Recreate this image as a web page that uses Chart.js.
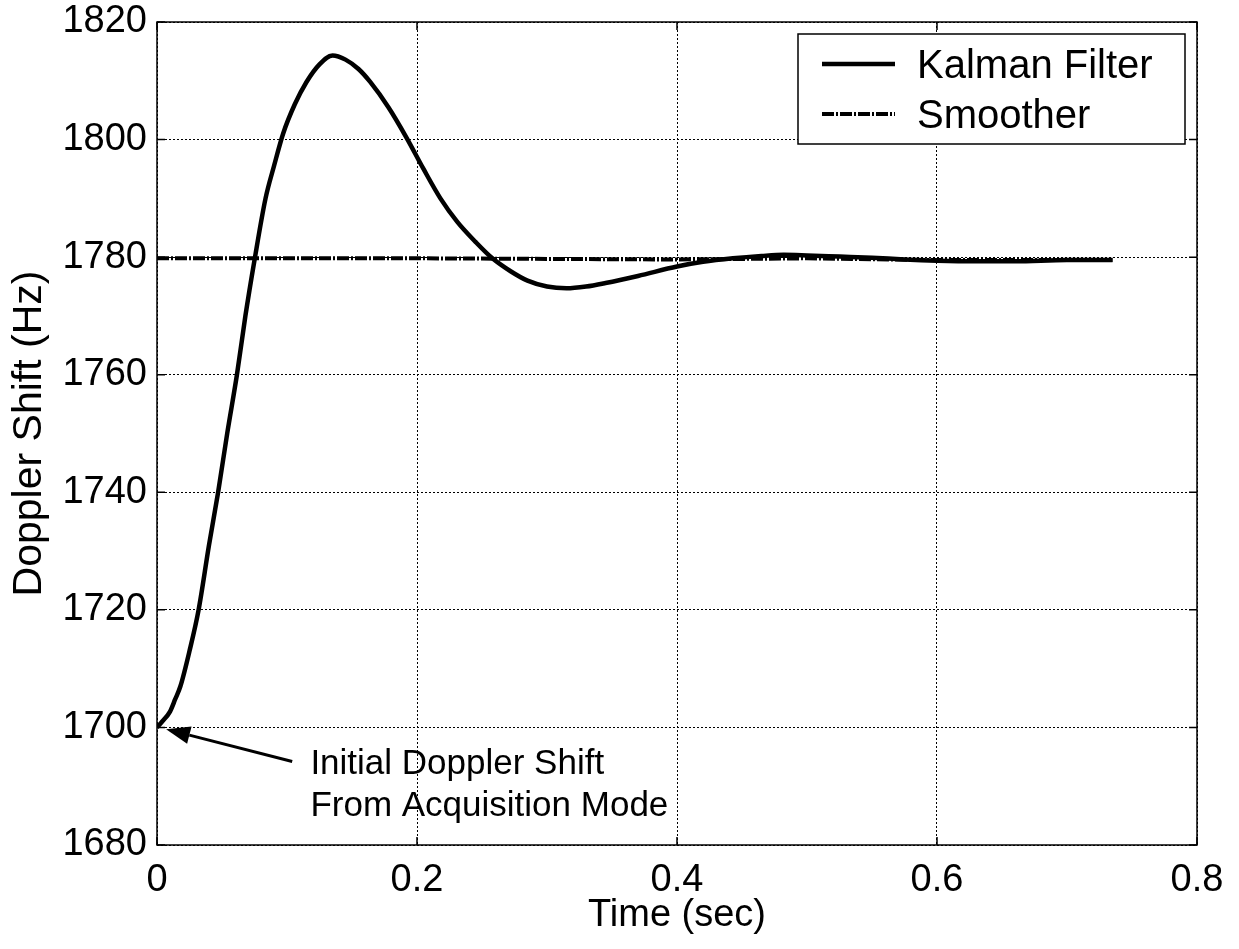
<!DOCTYPE html>
<html>
<head>
<meta charset="utf-8">
<script src="https://cdn.jsdelivr.net/npm/chart.js@4.4.0/dist/chart.umd.min.js"></script>
<style>
  html, body { margin: 0; padding: 0; background: #fff; }
  #wrap { width: 1239px; height: 949px; }
</style>
</head>
<body>
<div id="wrap"><canvas id="chart" width="1239" height="949"></canvas></div>
<script>
// values
const kalmanTime = [0, 0.004, 0.010, 0.014, 0.018, 0.025, 0.032, 0.040, 0.047, 0.054, 0.0615, 0.068, 0.075, 0.0835,
  0.090, 0.097, 0.106, 0.115, 0.125, 0.135, 0.145, 0.155, 0.164, 0.178, 0.192, 0.205, 0.218, 0.231, 0.245,
  0.258, 0.272, 0.285, 0.300, 0.315, 0.330, 0.345, 0.370, 0.400, 0.420, 0.443, 0.465, 0.482, 0.500, 0.525,
  0.550, 0.575, 0.600, 0.630, 0.660, 0.700, 0.735];
const kalmanShift = [1700, 1701, 1702.7, 1704.8, 1707, 1713, 1720, 1731, 1740, 1750, 1760, 1770, 1779.5, 1790,
  1795.5, 1801, 1806, 1809.8, 1812.8, 1814.3, 1813.6, 1812, 1809.8, 1805.5, 1800.3, 1795, 1790, 1786, 1782.6,
  1779.8, 1777.6, 1776, 1775, 1774.7, 1775, 1775.6, 1776.8, 1778.4, 1779.2, 1779.8, 1780.2, 1780.4, 1780.3, 1780.1,
  1779.9, 1779.6, 1779.4, 1779.3, 1779.3, 1779.5, 1779.5];
const smootherTime = [0, 0.1, 0.2, 0.3, 0.4, 0.5, 0.6, 0.735];
const smootherShift = [1779.8, 1779.8, 1779.8, 1779.7, 1779.6, 1779.8, 1779.5, 1779.5];
const seriesNames = ['Kalman Filter', 'Smoother'];
const xTicks = [0, 0.2, 0.4, 0.6, 0.8];
const yTicks = [1680, 1700, 1720, 1740, 1760, 1780, 1800, 1820];
const noteLines = ['Initial Doppler Shift', 'From Acquisition Mode'];
// arrow tip / tail and text anchor in data units
const noteTip = [0.007, 1699.7];
const noteTail = [0.104, 1694.2];
const noteText = [0.118, 1692.0];

const FONT = "'Liberation Sans', Arial, sans-serif";

const toPoints = (xs, ys) => xs.map((x, i) => ({ x: x, y: ys[i] }));

const extras = {
  id: 'extras',
  afterDraw(chart) {
    const { ctx, chartArea: a, scales: { x, y } } = chart;
    ctx.save();

    // inner tick marks
    ctx.strokeStyle = '#000';
    ctx.lineWidth = 1.5;
    ctx.beginPath();
    xTicks.forEach(v => {
      const px = x.getPixelForValue(v);
      ctx.moveTo(px, a.bottom); ctx.lineTo(px, a.bottom - 8);
      ctx.moveTo(px, a.top); ctx.lineTo(px, a.top + 8);
    });
    yTicks.forEach(v => {
      const py = y.getPixelForValue(v);
      ctx.moveTo(a.left, py); ctx.lineTo(a.left + 8, py);
      ctx.moveTo(a.right, py); ctx.lineTo(a.right - 8, py);
    });
    ctx.stroke();

    // frame
    ctx.lineWidth = 1.5;
    ctx.strokeRect(a.left, a.top, a.right - a.left, a.bottom - a.top);

    // legend box
    const lx = 798, ly = 34, lw = 387, lh = 110;
    ctx.fillStyle = '#fff';
    ctx.fillRect(lx, ly, lw, lh);
    ctx.lineWidth = 1.5;
    ctx.strokeRect(lx, ly, lw, lh);
    ctx.font = '40px ' + FONT;
    ctx.textBaseline = 'middle';
    ctx.textAlign = 'left';
    chart.data.datasets.forEach((ds, i) => {
      const rowY = ly + 30 + i * 50;
      ctx.strokeStyle = ds.borderColor;
      ctx.lineWidth = ds.borderWidth;
      ctx.setLineDash(ds.borderDash || []);
      ctx.beginPath();
      ctx.moveTo(lx + 24, rowY);
      ctx.lineTo(lx + 97, rowY);
      ctx.stroke();
      ctx.setLineDash([]);
      ctx.fillStyle = '#000';
      ctx.fillText(ds.label, lx + 119, rowY + 3);
    });

    // annotation arrow
    const tx = x.getPixelForValue(noteTip[0]), ty = y.getPixelForValue(noteTip[1]);
    const sx = x.getPixelForValue(noteTail[0]), sy = y.getPixelForValue(noteTail[1]);
    const ang = Math.atan2(ty - sy, tx - sx);
    const headLen = 24, headW = 9;
    const bx = tx - headLen * Math.cos(ang), by = ty - headLen * Math.sin(ang);
    ctx.strokeStyle = '#000';
    ctx.lineWidth = 3;
    ctx.beginPath();
    ctx.moveTo(sx, sy);
    ctx.lineTo(bx, by);
    ctx.stroke();
    ctx.fillStyle = '#000';
    ctx.beginPath();
    ctx.moveTo(tx, ty);
    ctx.lineTo(bx + headW * Math.sin(ang), by - headW * Math.cos(ang));
    ctx.lineTo(bx - headW * Math.sin(ang), by + headW * Math.cos(ang));
    ctx.closePath();
    ctx.fill();

    // annotation text
    ctx.font = '35px ' + FONT;
    ctx.textBaseline = 'alphabetic';
    const nx = x.getPixelForValue(noteText[0]);
    const ny = y.getPixelForValue(noteText[1]);
    noteLines.forEach((t, i) => ctx.fillText(t, nx, ny + i * 42));

    ctx.restore();
  }
};

new Chart(document.getElementById('chart'), {
  type: 'line',
  data: {
    datasets: [
      {
        label: seriesNames[0],
        data: toPoints(kalmanTime, kalmanShift),
        borderColor: '#000',
        borderWidth: 4.5,
        pointRadius: 0,
        cubicInterpolationMode: 'monotone',
        fill: false,
        order: 1
      },
      {
        label: seriesNames[1],
        data: toPoints(smootherTime, smootherShift),
        borderColor: '#000',
        borderWidth: 4,
        borderDash: [12, 2, 2, 2],
        pointRadius: 0,
        fill: false,
        order: 2
      }
    ]
  },
  options: {
    responsive: false,
    animation: false,
    devicePixelRatio: 1,
    layout: { padding: { left: 0, top: 22, right: 42, bottom: 0 } },
    plugins: {
      legend: { display: false },
      tooltip: { enabled: false }
    },
    scales: {
      x: {
        type: 'linear',
        min: 0,
        max: 0.8,
        afterBuildTicks: s => { s.ticks = xTicks.map(v => ({ value: v })); },
        afterFit: s => { s.height = 104; s.paddingLeft = 0; s.paddingRight = 0; },
        ticks: { color: '#000', font: { family: FONT, size: 38 }, padding: 13, maxRotation: 0, callback: v => String(v) },
        grid: { color: '#000', lineWidth: 1, drawTicks: false },
        border: { display: false, dash: [2, 2] },
        title: { display: true, text: 'Time (sec)', color: '#000', font: { family: FONT, size: 38 }, padding: { top: 0, bottom: 11 } }
      },
      y: {
        type: 'linear',
        min: 1680,
        max: 1820,
        afterBuildTicks: s => { s.ticks = yTicks.map(v => ({ value: v })); },
        afterFit: s => { s.width = 157; s.paddingTop = 0; s.paddingBottom = 0; },
        ticks: { color: '#000', font: { family: FONT, size: 38 }, padding: 10, callback: v => String(v) },
        grid: { color: '#000', lineWidth: 1, drawTicks: false },
        border: { display: false, dash: [2, 2] },
        title: { display: true, text: 'Doppler Shift (Hz)', color: '#000', font: { family: FONT, size: 41 }, padding: { top: 5, bottom: 0 } }
      }
    }
  },
  plugins: [extras]
});
</script>
</body>
</html>
